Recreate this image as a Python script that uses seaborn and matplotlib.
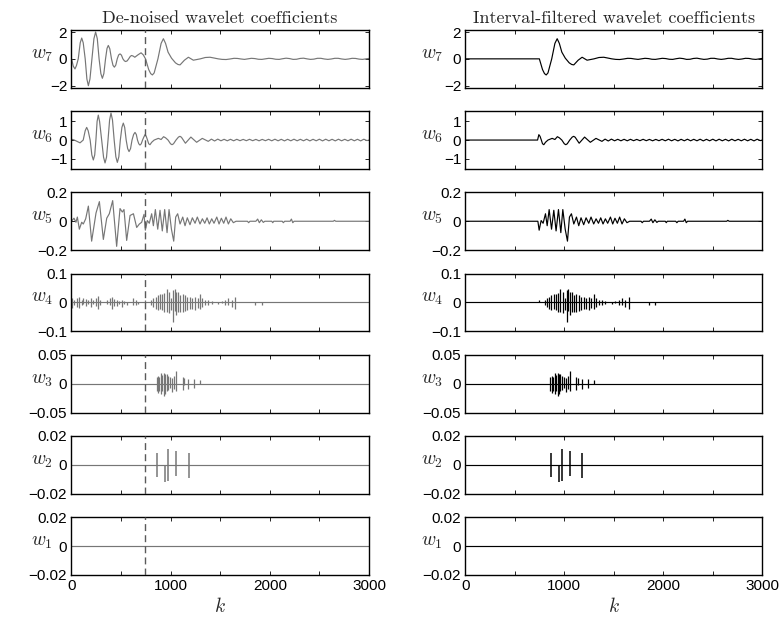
import numpy as np
import matplotlib
matplotlib.use("Agg")
import matplotlib.pyplot as plt
import seaborn as sns

# ------------------------------------------------------------------ data
K_MAX = 3000
INTERVAL_START = 740          # first sample kept by the interval filter

# w7 (coarsest detail level): (k, coefficient)
w7_points = [
    (0, 0.1), (20, -0.55), (37, -0.75), (52, -0.5), (70, 0.0), (90, 1.2),
    (105, 1.55), (120, 1.2), (140, 0.0), (157, -1.5), (172, -2.0),
    (188, -1.5), (208, 0.0), (228, 1.5), (245, 2.0), (262, 1.5), (280, 0.0),
    (298, -1.1), (313, -1.45), (328, -1.1), (345, 0.0), (360, 0.78),
    (373, 1.0), (388, 0.75), (405, 0.0), (420, -0.48), (434, -0.62),
    (448, -0.47), (463, 0.0), (477, 0.29), (491, 0.37), (505, 0.28),
    (520, 0.0), (535, -0.15), (548, -0.2), (563, -0.15), (578, 0.0),
    (595, 0.19), (608, 0.25), (625, 0.2), (640, 0.12), (672, 0.3),
    (703, 0.45), (725, 0.3), (748, 0.0), (780, -0.8), (800, -1.1),
    (817, -1.2), (835, -1.05), (873, 0.0), (905, 1.15), (928, 1.5),
    (950, 1.15), (975, 0.5), (1010, 0.05), (1050, -0.3), (1075, -0.42),
    (1096, -0.45), (1140, -0.1), (1180, 0.12), (1230, -0.1), (1300, 0.0),
    (1350, 0.1), (1398, 0.12), (1440, 0.06), (1480, 0.0), (1520, -0.04),
    (1560, -0.05), (1600, -0.01), (1640, 0.04), (1675, 0.03), (1710, -0.01),
    (1745, -0.04), (1780, 0.0), (1815, 0.04), (1850, 0.02), (1885, -0.03),
    (1920, -0.04), (1955, 0.0), (1990, 0.04), (2025, 0.02), (2060, -0.03),
    (2095, -0.04), (2130, 0.01), (2165, 0.05), (2200, 0.02), (2235, -0.04),
    (2270, -0.03), (2305, 0.03), (2340, 0.05), (2375, 0.0), (2410, -0.04),
    (2445, -0.02), (2480, 0.04), (2515, 0.04), (2550, -0.01), (2585, -0.04),
    (2620, -0.01), (2655, 0.04), (2690, 0.04), (2725, -0.01), (2760, -0.04),
    (2795, -0.01), (2830, 0.04), (2865, 0.03), (2900, -0.02), (2935, -0.04),
    (2970, 0.0), (3000, 0.03),
]

# w6
w6_points = [
    (0, 0.05), (30, 0.0), (88, -0.15), (120, 0.0), (140, 0.5), (155, 0.68),
    (170, 0.5), (190, 0.0), (207, -0.8), (222, -1.07), (236, -0.8),
    (248, 0.0), (260, 1.0), (272, 1.34), (285, 1.0), (306, 0.0),
    (325, -0.92), (340, -1.23), (355, -0.92), (370, 0.0), (386, 1.08),
    (400, 1.45), (415, 1.08), (432, 0.0), (449, -0.9), (464, -1.2),
    (479, -0.9), (494, 0.0), (510, 0.68), (524, 0.91), (538, 0.68),
    (553, 0.0), (568, -0.46), (582, -0.62), (597, -0.46), (612, 0.0),
    (628, 0.3), (642, 0.41), (655, 0.3), (667, 0.0), (680, -0.2),
    (692, -0.27), (705, -0.2), (718, 0.0), (730, 0.15), (743, 0.29),
    (755, 0.2), (768, 0.0), (780, -0.2), (793, -0.25), (810, -0.12),
    (835, 0.0), (877, 0.09), (905, 0.03), (930, 0.18), (950, 0.12),
    (975, 0.0), (1000, -0.2), (1015, -0.25), (1030, -0.2), (1055, 0.0),
    (1080, 0.16), (1095, 0.2), (1110, 0.15), (1150, -0.17), (1205, 0.16),
    (1263, -0.12), (1320, 0.09), (1380, -0.07), (1412, 0.05), (1444, -0.05),
    (1476, 0.05), (1508, -0.04), (1540, 0.04), (1572, -0.04), (1604, 0.04),
    (1636, -0.04), (1668, 0.04), (1700, -0.035), (1732, 0.035),
    (1764, -0.035), (1796, 0.04), (1828, -0.035), (1860, 0.035),
    (1892, -0.04), (1924, 0.035), (1956, -0.035), (1988, 0.04), (2020, -0.04),
    (2052, 0.045), (2084, -0.04), (2116, 0.04), (2148, -0.045), (2180, 0.04),
    (2212, -0.04), (2244, 0.045), (2276, -0.04), (2308, 0.04), (2340, -0.04),
    (2372, 0.045), (2404, -0.045), (2436, 0.04), (2468, -0.04), (2500, 0.045),
    (2532, -0.045), (2564, 0.045), (2596, -0.04), (2628, 0.04), (2660, -0.045),
    (2692, 0.045), (2724, -0.04), (2756, 0.04), (2788, -0.04), (2820, 0.045),
    (2852, -0.04), (2884, 0.04), (2916, -0.045), (2948, 0.045), (2980, -0.03),
    (3000, 0.0),
]

# w5
w5_points = [
    (0, 0.0), (7, 0.005), (27, 0.021), (47, -0.007), (61, 0.029), (81, -0.055),
    (105, -0.007), (121, -0.019), (145, 0.017), (172, 0.105), (205, -0.138),
    (249, 0.057), (283, 0.136), (323, -0.126), (357, 0.021), (383, 0.052),
    (417, 0.143), (457, -0.174), (491, 0.088), (514, 0.064), (531, 0.081),
    (558, -0.133), (592, 0.04), (626, 0.052), (659, -0.043), (686, -0.019),
    (709, -0.007), (733, 0.048), (746, -0.062), (766, 0.005), (786, -0.014),
    (810, 0.052), (827, -0.031), (847, 0.081), (871, -0.055), (894, 0.076),
    (917, -0.067), (941, 0.081), (965, -0.079), (985, 0.081), (1009, -0.055),
    (1032, -0.138), (1052, 0.029), (1072, 0.052), (1096, -0.019),
    (1123, 0.029), (1146, -0.031), (1169, 0.024), (1196, -0.024),
    (1220, 0.024), (1247, -0.014), (1270, 0.029), (1297, -0.019),
    (1321, 0.017), (1345, -0.014), (1368, 0.024), (1391, -0.019),
    (1415, 0.017), (1438, -0.014), (1466, 0.029), (1489, -0.019),
    (1512, 0.021), (1536, -0.014), (1559, 0.029), (1583, -0.019),
    (1607, 0.017), (1633, -0.01), (1660, 0.0), (1775, 0.0), (1787, -0.01),
    (1800, 0.0), (1860, 0.0), (1878, 0.015), (1895, -0.01), (1915, 0.01),
    (1935, -0.008), (1950, 0.0), (2020, 0.0), (2030, -0.01), (2040, 0.0),
    (2125, 0.0), (2137, -0.01), (2150, 0.0), (2205, 0.0), (2218, 0.015),
    (2232, -0.01), (2245, 0.0), (2640, 0.0), (2652, 0.006), (2665, 0.0),
    (3000, 0.0),
]

# w4: bursts given as position, upper and lower excursion
w4_k = [10, 31, 54, 77, 104, 122, 145, 172, 198, 222, 245, 272, 292, 356, 390,
        407, 434, 457, 480, 508, 534, 558, 625, 649, 669, 745, 803, 827, 850,
        870, 894, 917, 937, 961, 985, 1005, 1029, 1042, 1055, 1079, 1100, 1122,
        1146, 1170, 1196, 1220, 1247, 1272, 1297, 1321, 1348, 1381, 1415, 1482,
        1516, 1549, 1583, 1616, 1650, 1852, 1919]
w4_hi = [0.016, 0.008, 0.014, 0.02, 0.008, 0.014, 0.011, 0.007, 0.014, 0.008,
         0.016, 0.023, 0.008, 0.008, 0.014, 0.02, 0.011, 0.008, 0.005, 0.008,
         0.005, 0.002, 0.016, 0.008, 0.002, 0.008, 0.008, 0.014, 0.02, 0.025,
         0.028, 0.031, 0.034, 0.045, 0.037, 0.014, 0.043, 0.045, 0.037, 0.037,
         0.025, 0.028, 0.025, 0.02, 0.02, 0.014, 0.02, 0.014, 0.028, 0.014,
         0.008, 0.008, 0.005, 0.002, 0.004, 0.008, 0.014, 0.008, 0.02, 0.0, 0.0]
w4_lo = [-0.018, -0.009, -0.015, -0.02, -0.009, -0.005, -0.011, -0.007, -0.015,
         -0.007, -0.011, -0.021, -0.009, -0.007, -0.009, -0.021, -0.014, -0.011,
         -0.004, -0.015, -0.007, -0.009, -0.009, -0.009, -0.007, 0.0, -0.009,
         -0.015, -0.021, -0.026, -0.021, -0.026, -0.032, -0.034, -0.038, -0.026,
         -0.069, -0.03, -0.044, -0.034, -0.032, -0.032, -0.03, -0.026, -0.021,
         -0.023, -0.026, -0.018, -0.023, -0.015, -0.009, -0.009, -0.007, -0.007,
         -0.003, -0.009, -0.009, -0.015, -0.021, -0.009, -0.009]

# w3
w3_k = [860, 874, 887, 904, 917, 934, 948, 961, 978, 995, 1018, 1035, 1055,
        1122, 1135, 1178, 1235, 1295]
w3_hi = [0.011, 0.014, 0.012, 0.018, 0.015, 0.018, 0.016, 0.016, 0.014, 0.011,
         0.009, 0.013, 0.022, 0.011, 0.009, 0.008, 0.008, 0.007]
w3_lo = [-0.012, -0.016, -0.013, -0.018, -0.012, -0.021, -0.018, -0.013, -0.011,
         -0.007, -0.015, -0.009, -0.013, -0.011, -0.003, -0.009, -0.008, 0.0]

# w2
w2_k = [862, 944, 972, 1056, 1182]
w2_hi = [0.008, 0.0, 0.011, 0.0095, 0.0085]
w2_lo = [-0.0085, -0.012, -0.011, -0.008, -0.009]

# w1 carries no coefficients
w1_k = []
w1_hi = []
w1_lo = []

levels = ["7", "6", "5", "4", "3", "2", "1"]
y_limits = [2.15, 1.55, 0.2, 0.1, 0.05, 0.02, 0.02]
y_ticks = [[-2, 0, 2], [-1, 0, 1], [-0.2, 0, 0.2], [-0.1, 0, 0.1],
           [-0.05, 0, 0.05], [-0.02, 0, 0.02], [-0.02, 0, 0.02]]
y_ticklabels = [["\u22122", "0", "2"], ["\u22121", "0", "1"],
                ["\u22120.2", "0", "0.2"], ["\u22120.1", "0", "0.1"],
                ["\u22120.05", "0", "0.05"], ["\u22120.02", "0", "0.02"],
                ["\u22120.02", "0", "0.02"]]
x_ticks = [0, 500, 1000, 1500, 2000, 2500, 3000]
x_ticklabels = ["0", "", "1000", "", "2000", "", "3000"]
titles = ["De-noised wavelet coefficients",
          "Interval-filtered wavelet coefficients"]

curves = [w7_points, w6_points, w5_points]
bursts = [(w4_k, w4_hi, w4_lo), (w3_k, w3_hi, w3_lo), (w2_k, w2_hi, w2_lo),
          (w1_k, w1_hi, w1_lo)]

# ------------------------------------------------------------------ style
sns.set_theme(style="ticks")
plt.rcParams["font.family"] = ["Liberation Sans", "DejaVu Sans"]
plt.rcParams["mathtext.fontset"] = "cm"
plt.rcParams["axes.unicode_minus"] = True

GREY = "#767676"
BLACK = "#000000"
DASH = "#5a5a5a"

fig = plt.figure(figsize=(7.83, 6.21), dpi=100)
W, H = 783.0, 621.0
col_left = [71.3, 465.3]
col_width = [297.7, 297.0]
row_top0, row_step, row_h = 30.0, 81.2, 57.7
label_x = [-0.098, -0.112]


def keep_interval(k, values):
    k = np.asarray(k, dtype=float)
    return np.where(k >= INTERVAL_START, np.asarray(values, dtype=float), 0.0)


for col in range(2):
    color = GREY if col == 0 else BLACK
    for row in range(7):
        top = row_top0 + row * row_step
        ax = fig.add_axes([col_left[col] / W, 1 - (top + row_h) / H,
                           col_width[col] / W, row_h / H])
        lim = y_limits[row]

        if row < 3:
            k = np.array([p[0] for p in curves[row]], dtype=float)
            v = np.array([p[1] for p in curves[row]], dtype=float)
            if col == 1:
                v = keep_interval(k, v)
            sns.lineplot(x=k, y=v, ax=ax, color=color, linewidth=0.85,
                         estimator=None, sort=False, legend=False)
        else:
            k, hi, lo = bursts[row - 3]
            k = np.asarray(k, dtype=float)
            hi = np.asarray(hi, dtype=float)
            lo = np.asarray(lo, dtype=float)
            if col == 1:
                sel = k >= INTERVAL_START
                k, hi, lo = k[sel], hi[sel], lo[sel]
            sns.lineplot(x=[0, K_MAX], y=[0, 0], ax=ax, color=color,
                         linewidth=0.85, estimator=None, legend=False)
            if len(k):
                ax.vlines(k, lo, hi, color=color,
                          linewidth=1.1 if row == 5 else 0.9)

        if col == 0:
            ax.axvline(INTERVAL_START, color=DASH, linewidth=1.0,
                       dashes=(5, 3), zorder=3)

        ax.set_xlim(0, K_MAX)
        ax.set_ylim(-lim, lim)
        ax.set_yticks(y_ticks[row])
        ax.set_yticklabels(y_ticklabels[row])
        ax.set_xticks(x_ticks)
        if row == 6:
            ax.set_xticklabels(x_ticklabels)
            ax.set_xlabel(r"$k$", fontsize=14, labelpad=3)
        else:
            ax.set_xticklabels([])
            ax.set_xlabel("")

        ax.tick_params(direction="in", length=3, width=0.6, top=True,
                       right=True, labelsize=11, pad=3, colors="black")
        for sp in ax.spines.values():
            sp.set_visible(True)
            sp.set_linewidth(1.0)
            sp.set_color("black")

        ax.set_ylabel(r"$w_{%s}$" % levels[row], fontsize=14, rotation=0)
        ax.yaxis.label.set_ha("center")
        ax.yaxis.label.set_va("center")
        ax.yaxis.set_label_coords(label_x[col], 0.56)

        if row == 0:
            ax.set_title(titles[col], family="cmr10", fontsize=13, pad=5)

fig.savefig("out.png", dpi=100)
